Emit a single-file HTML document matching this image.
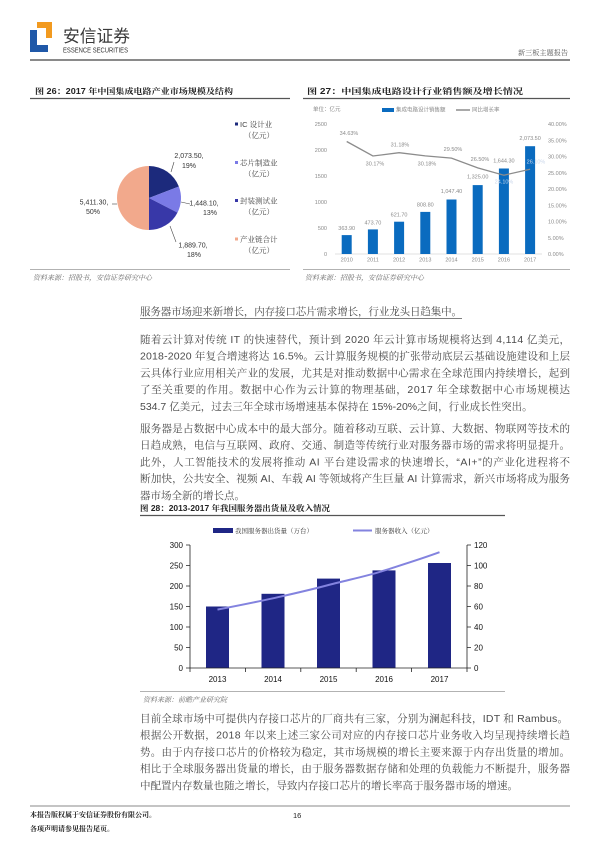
<!DOCTYPE html>
<html><head><meta charset="utf-8">
<style>
html,body{margin:0;padding:0;background:#fff;}
svg{display:block;}
.b{font-family:"Liberation Sans","Noto Serif CJK SC",serif;fill:#4a4a4a;font-size:10.5px;}
.t{font-family:"Liberation Sans","Noto Serif CJK SC",serif;fill:#222;font-size:8px;font-weight:bold;}
.s{font-family:"Liberation Sans","Noto Serif CJK SC",serif;fill:#666;font-size:7px;font-style:italic;}
.c5{font-family:"Liberation Sans","Noto Sans CJK SC",sans-serif;fill:#8a8a8a;font-size:5.5px;}
.c8{font-family:"Liberation Sans","Noto Sans CJK SC",sans-serif;fill:#111;font-size:8px;}
.lg{font-family:"Liberation Sans","Noto Serif CJK SC",serif;fill:#444;font-size:7.5px;}
.pl{font-family:"Liberation Sans",sans-serif;fill:#333;font-size:7px;}
.f{font-family:"Liberation Sans","Noto Serif CJK SC",serif;fill:#222;font-size:7px;font-weight:bold;}
</style></head>
<body>
<svg width="600" height="848" viewBox="0 0 600 848" xmlns="http://www.w3.org/2000/svg">
<!-- Header -->
<polygon points="30,30 37,30 37,45 48,45 48,52 30,52" fill="#1f58a8"/>
<polygon points="37,22 52,22 52,38 46,38 46,28 37,28" fill="#f29a1f"/>
<text x="63" y="42" font-family="'Liberation Sans','Noto Sans CJK SC',sans-serif" font-size="17" fill="#3a3a3a" textLength="67" lengthAdjust="spacingAndGlyphs">安信证券</text>
<text x="63" y="52.5" font-family="'Liberation Sans',sans-serif" font-size="7" fill="#333" textLength="65" lengthAdjust="spacingAndGlyphs">ESSENCE SECURITIES</text>
<text x="518" y="55" font-family="'Liberation Sans','Noto Serif CJK SC',serif" font-size="7" fill="#555" textLength="50" lengthAdjust="spacingAndGlyphs">新三板主题报告</text>
<line x1="30" y1="60" x2="570" y2="60" stroke="#8a8a8a" stroke-width="2"/>

<!-- Figure titles -->
<text class="t" x="35" y="94" textLength="198" lengthAdjust="spacingAndGlyphs">图 26：2017 年中国集成电路产业市场规模及结构</text>
<line x1="30" y1="98.5" x2="290" y2="98.5" stroke="#555" stroke-width="1.3"/>
<text class="t" x="307" y="94" textLength="216" lengthAdjust="spacingAndGlyphs">图 27：中国集成电路设计行业销售额及增长情况</text>
<line x1="303" y1="98.5" x2="570" y2="98.5" stroke="#555" stroke-width="1.3"/>

<!-- Pie chart fig 26 -->
<path d="M149,198 L149,166 A32,32 0 0 1 178.87,186.53 Z" fill="#1c2a7c"/>
<path d="M149,198 L178.87,186.53 A32,32 0 0 1 177.48,212.6 Z" fill="#7a7ae6"/>
<path d="M149,198 L177.48,212.6 A32,32 0 0 1 149,230 Z" fill="#3838a8"/>
<path d="M149,198 L149,230 A32,32 0 0 1 149,166 Z" fill="#f2a98c"/>
<polyline points="174,162 171,172" fill="none" stroke="#444" stroke-width="0.6"/>
<polyline points="181,202 190,204" fill="none" stroke="#444" stroke-width="0.6"/>
<polyline points="170,226 176,242" fill="none" stroke="#444" stroke-width="0.6"/>
<polyline points="112,204 117,204" fill="none" stroke="#444" stroke-width="0.6"/>
<text class="pl" x="189" y="158" text-anchor="middle">2,073.50,</text>
<text class="pl" x="189" y="168" text-anchor="middle">19%</text>
<text class="pl" x="204" y="205.5" text-anchor="middle">1,448.10,</text>
<text class="pl" x="210" y="215" text-anchor="middle">13%</text>
<text class="pl" x="193" y="247.5" text-anchor="middle">1,889.70,</text>
<text class="pl" x="194" y="257" text-anchor="middle">18%</text>
<text class="pl" x="94" y="204.5" text-anchor="middle">5,411.30,</text>
<text class="pl" x="93" y="214" text-anchor="middle">50%</text>
<!-- pie legend -->
<rect x="235" y="122.5" width="3" height="3" fill="#1c2a7c"/>
<text class="lg" x="240" y="127">IC 设计业</text>
<text class="lg" x="244" y="138">（亿元）</text>
<rect x="235" y="161" width="3" height="3" fill="#7a7ae6"/>
<text class="lg" x="240" y="165.5">芯片制造业</text>
<text class="lg" x="244" y="176.5">（亿元）</text>
<rect x="235" y="199" width="3" height="3" fill="#3838a8"/>
<text class="lg" x="240" y="203.5">封装测试业</text>
<text class="lg" x="244" y="214.5">（亿元）</text>
<rect x="235" y="237.5" width="3" height="3" fill="#f2a98c"/>
<text class="lg" x="240" y="242">产业链合计</text>
<text class="lg" x="244" y="253">（亿元）</text>
<line x1="30" y1="269.5" x2="290" y2="269.5" stroke="#999" stroke-width="0.8"/>
<text class="s" x="33" y="280">资料来源：招股书，安信证券研究中心</text>

<!-- Fig 27 bar/line chart -->
<text class="c5" x="313" y="111">单位：亿元</text>
<rect x="382" y="108" width="12" height="4" fill="#0a6bbf"/>
<text class="c5" x="396" y="111.5">集成电路设计销售额</text>
<line x1="456" y1="110" x2="470" y2="110" stroke="#8c8c8c" stroke-width="1.5"/>
<text class="c5" x="472" y="111.5">同比增长率</text>
<g class="c5" text-anchor="end">
<text x="327" y="126">2500</text><text x="327" y="152">2000</text><text x="327" y="178">1500</text>
<text x="327" y="204">1000</text><text x="327" y="230">500</text><text x="327" y="256">0</text>
</g>
<g class="c5">
<text x="548" y="126">40.00%</text><text x="548" y="142.3">35.00%</text><text x="548" y="158.5">30.00%</text>
<text x="548" y="174.8">25.00%</text><text x="548" y="191">20.00%</text><text x="548" y="207.3">15.00%</text>
<text x="548" y="223.5">10.00%</text><text x="548" y="239.8">5.00%</text><text x="548" y="256">0.00%</text>
</g>
<line x1="335" y1="254" x2="542" y2="254" stroke="#d9d9d9" stroke-width="0.7"/>
<g fill="#0a6bbf">
<rect x="341.7" y="235.1" width="10" height="18.9"/>
<rect x="367.9" y="229.4" width="10" height="24.6"/>
<rect x="394.1" y="221.7" width="10" height="32.3"/>
<rect x="420.3" y="211.9" width="10" height="42.1"/>
<rect x="446.5" y="199.5" width="10" height="54.5"/>
<rect x="472.7" y="185.1" width="10" height="68.9"/>
<rect x="498.9" y="168.5" width="10" height="85.5"/>
<rect x="525.1" y="146.2" width="10" height="107.8"/>
</g>
<g class="c5" text-anchor="middle">
<text x="346.7" y="230">363.90</text>
<text x="372.9" y="224.5">473.70</text>
<text x="399.1" y="216.5">621.70</text>
<text x="425.3" y="206.5">808.80</text>
<text x="451.5" y="193">1,047.40</text>
<text x="477.7" y="178.5">1,325.00</text>
<text x="503.9" y="162.5">1,644.30</text>
<text x="530.1" y="140">2,073.50</text>
</g>
<polyline points="346.7,141.5 372.9,156 399.1,152.7 425.3,155.9 451.5,158.1 477.7,167.9 503.9,175.2 530.1,169.2" fill="none" stroke="#8c8c8c" stroke-width="1.3"/>
<g class="c5" text-anchor="middle">
<text x="349" y="135">34.63%</text>
<text x="375" y="165.5">30.17%</text>
<text x="400" y="146.5">31.18%</text>
<text x="427" y="165.5">30.18%</text>
<text x="453" y="151">29.50%</text>
<text x="480" y="161">26.50%</text>
<text x="504" y="183.5" fill="#c9d6ea">24.10%</text>
<text x="536" y="163.5" fill="#c9d6ea">26.10%</text>
</g>
<g class="c5" text-anchor="middle">
<text x="346.7" y="261.5">2010</text><text x="372.9" y="261.5">2011</text><text x="399.1" y="261.5">2012</text>
<text x="425.3" y="261.5">2013</text><text x="451.5" y="261.5">2014</text><text x="477.7" y="261.5">2015</text>
<text x="503.9" y="261.5">2016</text><text x="530.1" y="261.5">2017</text>
</g>
<line x1="303" y1="269.5" x2="570" y2="269.5" stroke="#999" stroke-width="0.8"/>
<text class="s" x="305" y="280">资料来源：招股书，安信证券研究中心</text>

<!-- Section heading -->
<text class="b" x="140" y="315" textLength="322" lengthAdjust="spacing">服务器市场迎来新增长，内存接口芯片需求增长，行业龙头日趋集中。</text>
<line x1="140" y1="318.5" x2="462" y2="318.5" stroke="#555" stroke-width="0.7"/>

<!-- Paragraph 1 -->
<text class="b" x="140" y="343" textLength="430" lengthAdjust="spacing">随着云计算对传统 IT 的快速替代，预计到 2020 年云计算市场规模将达到 4,114 亿美元，</text>
<text class="b" x="140" y="359.7" textLength="430" lengthAdjust="spacing">2018-2020 年复合增速将达 16.5%。云计算服务规模的扩张带动底层云基础设施建设和上层</text>
<text class="b" x="140" y="376.4" textLength="430" lengthAdjust="spacing">云具体行业应用相关产业的发展，尤其是对推动数据中心需求在全球范围内持续增长，起到</text>
<text class="b" x="140" y="393.1" textLength="430" lengthAdjust="spacing">了至关重要的作用。数据中心作为云计算的物理基础，2017 年全球数据中心市场规模达</text>
<text class="b" x="140" y="409.8">534.7 亿美元，过去三年全球市场增速基本保持在 15%-20%之间，行业成长性突出。</text>

<!-- Paragraph 2 -->
<text class="b" x="140" y="432" textLength="430" lengthAdjust="spacing">服务器是占数据中心成本中的最大部分。随着移动互联、云计算、大数据、物联网等技术的</text>
<text class="b" x="140" y="448.7" textLength="430" lengthAdjust="spacing">日趋成熟，电信与互联网、政府、交通、制造等传统行业对服务器市场的需求将明显提升。</text>
<text class="b" x="140" y="465.4" textLength="430" lengthAdjust="spacing">此外，人工智能技术的发展将推动 AI 平台建设需求的快速增长，“AI+”的产业化进程将不</text>
<text class="b" x="140" y="482.1" textLength="430" lengthAdjust="spacingAndGlyphs">断加快，公共安全、视频 AI、车载 AI 等领域将产生巨量 AI 计算需求，新兴市场将成为服务</text>
<text class="b" x="140" y="498.8">器市场全新的增长点。</text>

<!-- Fig 28 -->
<text class="t" x="140" y="511" textLength="190" lengthAdjust="spacingAndGlyphs">图 28：2013-2017 年我国服务器出货量及收入情况</text>
<line x1="140" y1="515.5" x2="505" y2="515.5" stroke="#555" stroke-width="1.3"/>
<rect x="213" y="528" width="20" height="5" fill="#1f2685"/>
<text x="235" y="533" font-family="'Liberation Sans','Noto Serif CJK SC',serif" font-size="6.5" fill="#333">我国服务器出货量（万台）</text>
<line x1="353" y1="530.5" x2="372" y2="530.5" stroke="#8383df" stroke-width="2"/>
<text x="375" y="533" font-family="'Liberation Sans','Noto Serif CJK SC',serif" font-size="6.5" fill="#333">服务器收入（亿元）</text>
<g fill="#1f2685">
<rect x="206" y="606.5" width="23" height="61.5"/>
<rect x="261.5" y="593.8" width="23" height="74.2"/>
<rect x="317" y="578.6" width="23" height="89.4"/>
<rect x="372.5" y="570.4" width="23" height="97.6"/>
<rect x="428" y="563" width="23" height="105"/>
</g>
<path d="M217.5,609.6 C236,606 254,602.5 273,598.3 C292,594 310,590 328.5,585 C347,580 366,576.5 384,570.6 C403,564.5 421,559 439.5,552.2" fill="none" stroke="#8383df" stroke-width="2"/>
<g stroke="#222" stroke-width="0.8" fill="none">
<line x1="190" y1="545" x2="190" y2="668"/>
<line x1="467" y1="545" x2="467" y2="668"/>
<line x1="190" y1="668" x2="467" y2="668"/>
<path d="M186,545H190M186,565.5H190M186,586H190M186,606.5H190M186,627H190M186,647.5H190M186,668H190"/>
<path d="M467,545H471M467,565.5H471M467,586H471M467,606.5H471M467,627H471M467,647.5H471M467,668H471"/>
<path d="M190,668V672M245.4,668V672M300.8,668V672M356.2,668V672M411.6,668V672M467,668V672"/>
</g>
<g class="c8" text-anchor="end">
<text x="183" y="548">300</text><text x="183" y="568.5">250</text><text x="183" y="589">200</text>
<text x="183" y="609.5">150</text><text x="183" y="630">100</text><text x="183" y="650.5">50</text><text x="183" y="671">0</text>
</g>
<g class="c8">
<text x="474" y="548">120</text><text x="474" y="568.5">100</text><text x="474" y="589">80</text>
<text x="474" y="609.5">60</text><text x="474" y="630">40</text><text x="474" y="650.5">20</text><text x="474" y="671">0</text>
</g>
<g class="c8" text-anchor="middle">
<text x="217.5" y="682">2013</text><text x="273" y="682">2014</text><text x="328.5" y="682">2015</text>
<text x="384" y="682">2016</text><text x="439.5" y="682">2017</text>
</g>
<line x1="140" y1="691.5" x2="505" y2="691.5" stroke="#999" stroke-width="0.8"/>
<text class="s" x="143" y="702">资料来源：前瞻产业研究院</text>

<!-- Paragraph 3 -->
<text class="b" x="140" y="722" textLength="428" lengthAdjust="spacing">目前全球市场中可提供内存接口芯片的厂商共有三家，分别为澜起科技，IDT 和 Rambus。</text>
<text class="b" x="140" y="738.7" textLength="430" lengthAdjust="spacing">根据公开数据，2018 年以来上述三家公司对应的内存接口芯片业务收入均呈现持续增长趋</text>
<text class="b" x="140" y="755.4" textLength="430" lengthAdjust="spacing">势。由于内存接口芯片的价格较为稳定，其市场规模的增长主要来源于内存出货量的增加。</text>
<text class="b" x="140" y="772.1" textLength="430" lengthAdjust="spacing">相比于全球服务器出货量的增长，由于服务器数据存储和处理的负载能力不断提升，服务器</text>
<text class="b" x="140" y="788.8">中配置内存数量也随之增长，导致内存接口芯片的增长率高于服务器市场的增速。</text>

<!-- Footer -->
<line x1="30" y1="806" x2="570" y2="806" stroke="#888" stroke-width="1"/>
<text class="f" x="30" y="817">本报告版权属于安信证券股份有限公司。</text>
<text class="f" x="30" y="831">各项声明请参见报告尾页。</text>
<text x="293" y="818" font-family="'Liberation Sans',sans-serif" font-size="7.5" fill="#222">16</text>
</svg>
</body></html>
